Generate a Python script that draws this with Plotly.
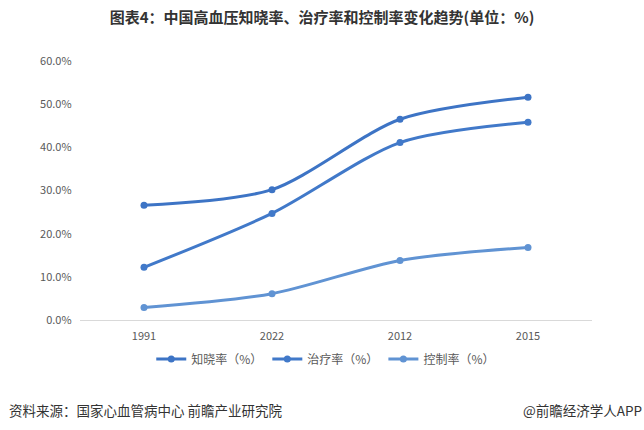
import plotly.graph_objects as go

categories = ["1991", "2022", "2012", "2015"]
awareness = [0.266, 0.302, 0.465, 0.516]
treatment = [0.122, 0.247, 0.411, 0.458]
control = [0.029, 0.061, 0.138, 0.168]

series = [
    ("知晓率（%）", awareness, "#3d74c5"),
    ("治疗率（%）", treatment, "#4179c9"),
    ("控制率（%）", control, "#6093d3"),
]

font_family = "Noto Sans CJK SC, Microsoft YaHei, sans-serif"

fig = go.Figure()
for name, vals, color in series:
    fig.add_trace(go.Scatter(
        x=categories, y=vals, name=name, mode="lines+markers",
        line=dict(color=color, width=3, shape="spline", smoothing=0.8),
        marker=dict(color=color, size=7),
    ))

fig.update_layout(
    width=644, height=430,
    margin=dict(l=80, r=52, t=61, b=110),
    paper_bgcolor="white", plot_bgcolor="white",
    font=dict(family=font_family, color="#595959", size=11),
    showlegend=True,
    legend=dict(orientation="h", x=0.48, xanchor="center", y=-39/259, yanchor="middle",
                bgcolor="rgba(0,0,0,0)",
                font=dict(size=12, color="#595959"), itemwidth=30),
    title=dict(text="<b>图表4：中国高血压知晓率、治疗率和控制率变化趋势(单位：%)</b>",
               x=0.5, xanchor="center", y=0.958, yanchor="middle",
               font=dict(size=15, color="#333333", family=font_family)),
    xaxis=dict(type="category", range=[-0.5, 3.5], showgrid=False, showline=True,
               linecolor="#d9d9d9", linewidth=1, ticks="outside", ticklen=6,
               tickcolor="rgba(0,0,0,0)",
               tickfont=dict(size=11, color="#595959")),
    yaxis=dict(range=[0, 0.6], dtick=0.1, tickformat=".1%", showgrid=False,
               zeroline=False, showline=False, ticks="",
               tickfont=dict(size=11, color="#595959"), ticksuffix="   "),
)

fig.add_annotation(text="资料来源：国家心血管病中心 前瞻产业研究院", xref="paper", yref="paper",
                   x=-73/512, xanchor="left", y=-90/259, yanchor="middle", showarrow=False,
                   font=dict(size=13.5, color="#333333", family=font_family))
fig.add_annotation(text="@前瞻经济学人APP", xref="paper", yref="paper",
                   x=(644-80)/512, xanchor="right", y=-90/259, yanchor="middle", showarrow=False,
                   font=dict(size=13.5, color="#333333", family=font_family))

fig.write_html("out.html")
